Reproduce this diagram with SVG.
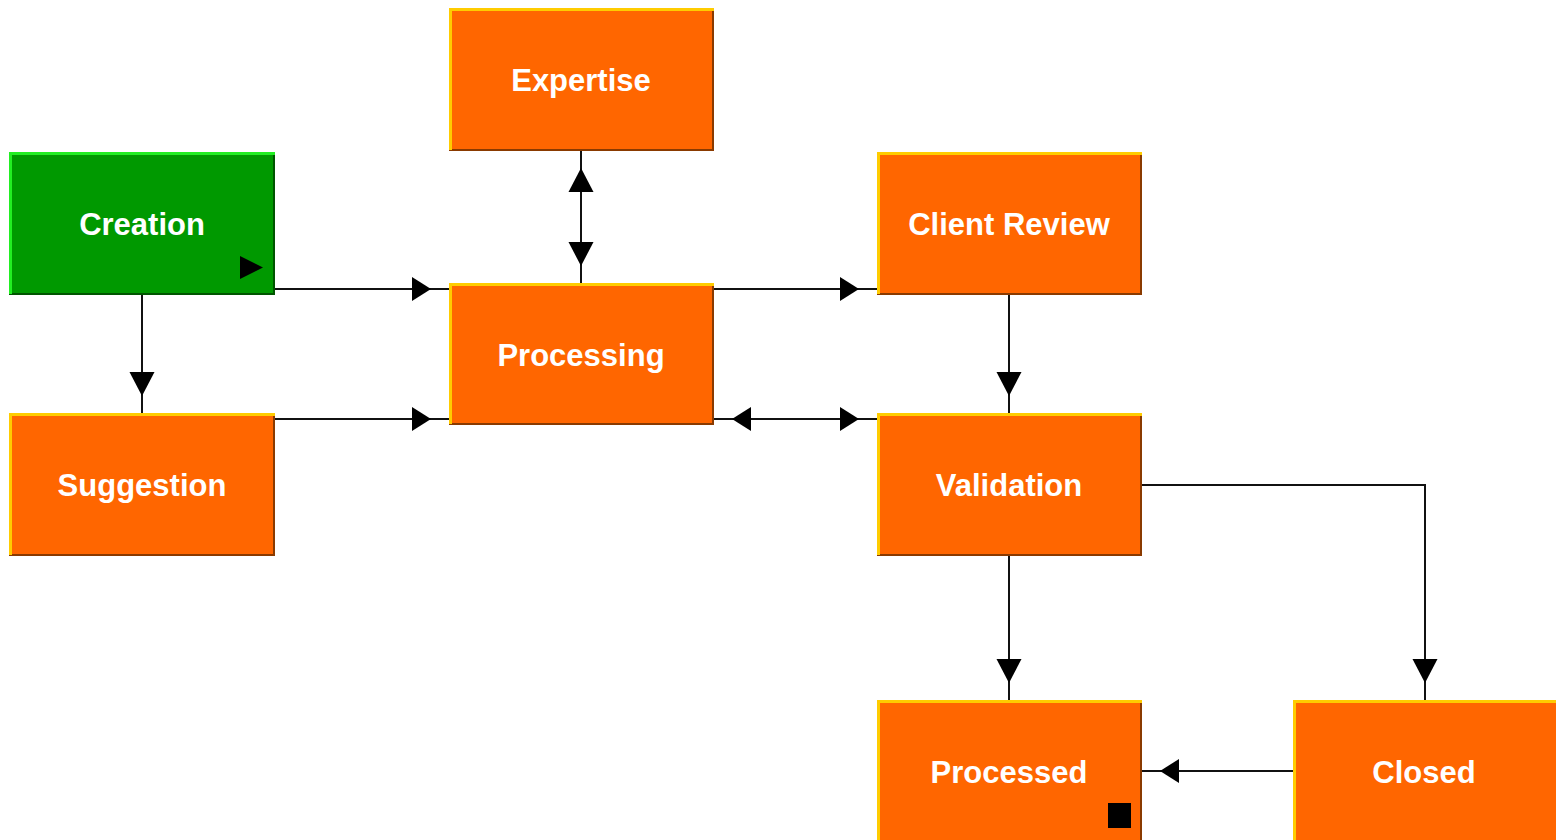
<svg xmlns="http://www.w3.org/2000/svg" width="1556" height="840" viewBox="0 0 1556 840">
<style>
.o{fill:#FF6600}
.g{fill:#009900}
.hlo{fill:none;stroke:#FFCC00;stroke-width:3}
.sho{fill:none;stroke:#8A3A00;stroke-width:2}
.hlg{fill:none;stroke:#22EE22;stroke-width:3}
.shg{fill:none;stroke:#005500;stroke-width:2}
.t{font-family:"Liberation Sans",Arial,sans-serif;font-weight:bold;font-size:31px;fill:#FFFFFF;text-anchor:middle}
.c{fill:none;stroke:#111111;stroke-width:2}
.ch{marker-end:url(#ah)}
.cv{marker-end:url(#av)}
</style>
<defs>
<marker id="ah" markerUnits="userSpaceOnUse" markerWidth="40" markerHeight="24" viewBox="0 -12 40 24" refX="37" refY="0" orient="auto-start-reverse" overflow="visible">
<path d="M0,-12 L19,0 L0,12 z" fill="#000"/>
</marker>
<marker id="av" markerUnits="userSpaceOnUse" markerWidth="44" markerHeight="26" viewBox="0 -13 44 26" refX="41" refY="0" orient="auto-start-reverse" overflow="visible">
<path d="M0,-12.5 L24,0 L0,12.5 z" fill="#000"/>
</marker>
</defs>
<rect width="1556" height="840" fill="#FFFFFF"/>
<g id="connectors">
<path class="c ch" d="M275,289 H449"/>
<path class="c cv" d="M142,295 V413"/>
<path class="c cv" style="marker-start:url(#av)" d="M581,151 V283"/>
<path class="c ch" d="M714,289 H877"/>
<path class="c ch" d="M275,419 H449"/>
<path class="c ch" style="marker-start:url(#ah)" d="M714,419 H877"/>
<path class="c cv" d="M1009,295 V413"/>
<path class="c cv" d="M1009,556 V700"/>
<path class="c cv" d="M1142,485 H1425 V700"/>
<path class="c ch" d="M1293,771 H1142"/>
</g>
<g id="expertise">
<rect class="o" x="449" y="8" width="265" height="143"/>
<polyline class="sho" points="449,150 713,150 713,8"/>
<polyline class="hlo" points="450.5,150 450.5,9.5 714,9.5"/>
<text class="t" x="581" y="91">Expertise</text>
</g>
<g id="creation">
<rect class="g" x="9" y="152" width="266" height="143"/>
<polyline class="shg" points="9,294 274,294 274,152"/>
<polyline class="hlg" points="10.5,294 10.5,153.5 275,153.5"/>
<text class="t" x="142" y="235">Creation</text>
<polygon points="240,256 263,267.5 240,279" fill="#000"/>
</g>
<g id="client-review">
<rect class="o" x="877" y="152" width="265" height="143"/>
<polyline class="sho" points="877,294 1141,294 1141,152"/>
<polyline class="hlo" points="878.5,294 878.5,153.5 1142,153.5"/>
<text class="t" x="1009" y="235">Client Review</text>
</g>
<g id="processing">
<rect class="o" x="449" y="283" width="265" height="142"/>
<polyline class="sho" points="449,424 713,424 713,283"/>
<polyline class="hlo" points="450.5,424 450.5,284.5 714,284.5"/>
<text class="t" x="581" y="366">Processing</text>
</g>
<g id="suggestion">
<rect class="o" x="9" y="413" width="266" height="143"/>
<polyline class="sho" points="9,555 274,555 274,413"/>
<polyline class="hlo" points="10.5,555 10.5,414.5 275,414.5"/>
<text class="t" x="142" y="496">Suggestion</text>
</g>
<g id="validation">
<rect class="o" x="877" y="413" width="265" height="143"/>
<polyline class="sho" points="877,555 1141,555 1141,413"/>
<polyline class="hlo" points="878.5,555 878.5,414.5 1142,414.5"/>
<text class="t" x="1009" y="496">Validation</text>
</g>
<g id="processed">
<rect class="o" x="877" y="700" width="265" height="150"/>
<polyline class="sho" points="1141,700 1141,850"/>
<polyline class="hlo" points="878.5,850 878.5,701.5 1142,701.5"/>
<text class="t" x="1009" y="783">Processed</text>
<rect x="1108" y="803" width="23" height="25" fill="#000"/>
</g>
<g id="closed">
<rect class="o" x="1293" y="700" width="270" height="150"/>
<polyline class="hlo" points="1294.5,850 1294.5,701.5 1563,701.5"/>
<text class="t" x="1424" y="783">Closed</text>
</g>
</svg>
